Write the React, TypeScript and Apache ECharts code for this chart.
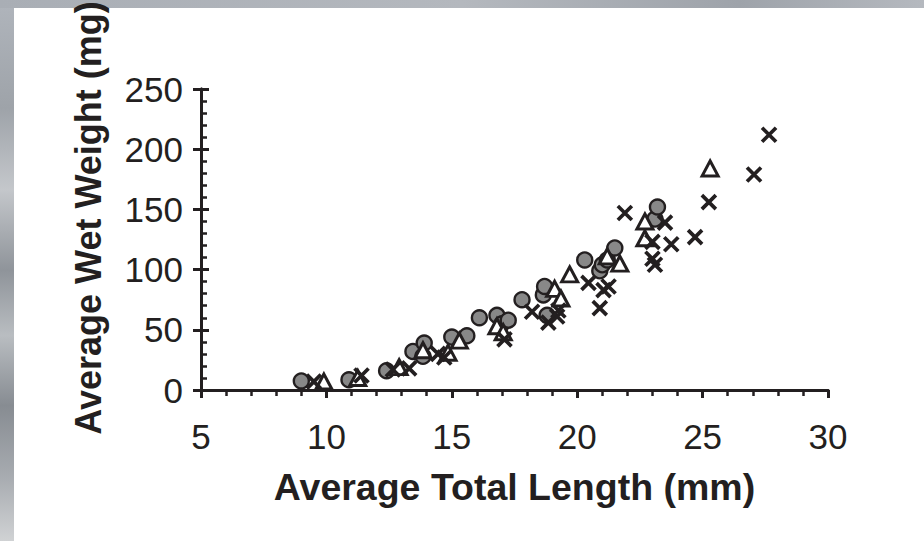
import React, { useEffect, useRef } from "react";
import * as echarts from "echarts";

const xTitle = "Average Total Length (mm)";
const yTitle = "Average Wet Weight (mg)";
const xMin = 5, xMax = 30, xStep = 5;
const yMin = 0, yMax = 250, yStep = 50;

const circlePts: number[][] = [
  [9.0, 7.5], [10.9, 8.5], [12.4, 16], [13.45, 32], [13.9, 39], [13.85, 28],
  [15.0, 44], [15.6, 45], [16.1, 60], [16.8, 62], [17.0, 55], [17.25, 58],
  [17.8, 75], [18.65, 79], [18.7, 86], [18.8, 62], [20.3, 108], [20.9, 99],
  [21.0, 104], [21.2, 108], [21.5, 118], [23.1, 142], [23.2, 152],
];
const trianglePts: number[][] = [
  [9.9, 7], [11.25, 10], [12.9, 19], [13.85, 33], [14.85, 31], [15.3, 41],
  [16.8, 53], [17.05, 48], [19.1, 84], [19.35, 76], [19.7, 96], [21.2, 111],
  [21.7, 105], [22.7, 126], [22.7, 140], [25.3, 184],
];
const crossPts: number[][] = [
  [9.5, 7], [11.4, 12], [12.65, 17], [13.3, 18], [14.45, 30], [14.7, 27],
  [17.1, 42], [18.2, 65], [18.85, 56], [19.2, 61], [19.25, 66], [20.45, 89],
  [20.9, 68], [21.05, 83], [21.25, 86], [21.9, 147], [23.0, 123], [23.0, 109],
  [23.1, 104], [23.5, 139], [23.75, 121], [24.7, 127], [25.25, 156],
  [27.05, 179], [27.65, 212],
];

const INK = "#231f20";
const FONT = "'Liberation Sans', Arial, sans-serif";

export default function App() {
  const ref = useRef<HTMLDivElement>(null);
  useEffect(() => {
    document.body.style.margin = "0";
    if (!ref.current) return;
    const chart = echarts.init(ref.current, null, { renderer: "svg" });
    const baseAxis = {
      type: "value" as const,
      splitLine: { show: false },
      axisLine: { show: true, lineStyle: { color: INK, width: 3 } },
    };
    chart.setOption({
      animation: false,
      backgroundColor: "transparent",
      graphic: [
        {
          type: "rect", z: -10, silent: true,
          shape: { x: 0, y: 0, width: 924, height: 541 },
          style: {
            fill: new echarts.graphic.LinearGradient(0, 0, 0, 1, [
              { offset: 0, color: "#b0b5bc" },
              { offset: 0.2, color: "#9ea3a9" },
              { offset: 0.35, color: "#c4c7cb" },
              { offset: 0.5, color: "#8f949a" },
              { offset: 0.62, color: "#b9bdc1" },
              { offset: 0.75, color: "#878c92" },
              { offset: 0.88, color: "#a7abb0" },
              { offset: 1, color: "#d0d2d4" },
            ]),
          },
        },
        {
          type: "rect", z: -9, silent: true,
          shape: { x: 0, y: 0, width: 924, height: 8 },
          style: {
            fill: new echarts.graphic.LinearGradient(0, 0, 1, 0, [
              { offset: 0, color: "#a9aeb5" },
              { offset: 0.5, color: "#b4b8be" },
              { offset: 0.8, color: "#9ea3aa" },
              { offset: 1, color: "#b5b9bf" },
            ]),
          },
        },
        {
          type: "rect", z: -8, silent: true,
          shape: { x: 14, y: 8, width: 910, height: 533 },
          style: { fill: "#ffffff" },
        },
        {
          type: "text", x: 88, y: 218, rotation: Math.PI / 2,
          style: {
            text: yTitle, font: `bold 36px ${FONT}`, fill: INK,
            align: "center", verticalAlign: "middle",
          },
        },
      ],
      grid: { left: 201, right: 96, top: 89, bottom: 151, containLabel: false },
      xAxis: [
        {
          ...baseAxis, min: xMin, max: xMax, interval: xStep,
          name: xTitle, nameLocation: "middle", nameGap: 78,
          nameTextStyle: { fontFamily: FONT, fontSize: 37.5, fontWeight: "bold", color: INK },
          axisTick: { show: true, inside: false, length: 8, lineStyle: { color: INK, width: 3 } },
          axisLabel: { show: true, margin: 29, fontFamily: FONT, fontSize: 35, color: INK },
        },
        {
          ...baseAxis, min: xMin, max: xMax, interval: xStep,
          axisTick: { show: true, inside: true, length: 8, lineStyle: { color: INK, width: 3 } },
          minorTick: { show: true, splitNumber: 5, length: 6, lineStyle: { color: INK, width: 2.5 } },
          axisLabel: { show: false },
        },
      ],
      yAxis: [
        {
          ...baseAxis, min: yMin, max: yMax, interval: yStep,
          axisTick: { show: true, inside: false, length: 8, lineStyle: { color: INK, width: 3 } },
          axisLabel: { show: true, margin: 18, fontFamily: FONT, fontSize: 35, color: INK },
        },
        {
          ...baseAxis, min: yMin, max: yMax, interval: yStep, position: "left",
          axisTick: { show: true, inside: true, length: 8, lineStyle: { color: INK, width: 3 } },
          minorTick: { show: true, splitNumber: 5, length: 6, lineStyle: { color: INK, width: 2.5 } },
          axisLabel: { show: false },
        },
      ],
      series: [
        {
          type: "scatter", name: "circle", data: circlePts, symbol: "circle", symbolSize: 15,
          itemStyle: { color: "#888888", borderColor: INK, borderWidth: 2.4, opacity: 1 },
          z: 3,
        },
        {
          type: "scatter", name: "triangle", data: trianglePts, symbol: "triangle", symbolSize: [16, 15],
          itemStyle: { color: "#ffffff", borderColor: INK, borderWidth: 3, opacity: 1 },
          z: 4,
        },
        {
          type: "scatter", name: "cross", data: crossPts,
          symbol: "path://M0,0L10,10M10,0L0,10", symbolSize: 14,
          itemStyle: { color: "rgba(0,0,0,0)", borderColor: INK, borderWidth: 3.7, opacity: 1 },
          z: 5,
        },
      ],
    });
    return () => chart.dispose();
  }, []);
  return <div ref={ref} style={{ width: 924, height: 541 }} />;
}
